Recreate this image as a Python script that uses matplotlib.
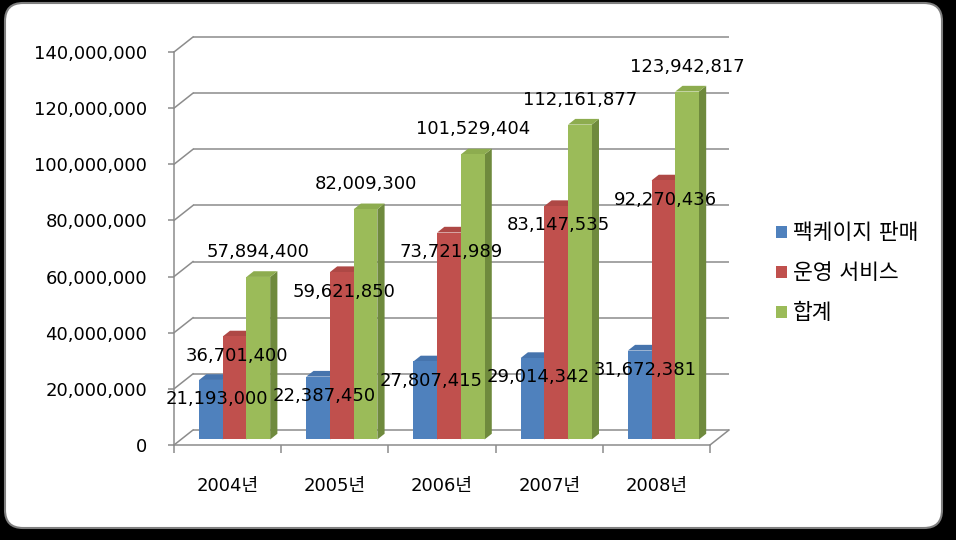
import matplotlib.pyplot as plt
from matplotlib.patches import Polygon, Patch, Rectangle, FancyBboxPatch
from matplotlib.transforms import IdentityTransform
import numpy as np

# digits in DejaVu (closer to the wide original face), hangul falls back to Noto
plt.rcParams['font.family'] = ['DejaVu Sans', 'Noto Sans CJK KR']

years = ['2004년', '2005년', '2006년', '2007년', '2008년']
series_names = ['팩케이지 판매', '운영 서비스', '합계']
package_sales = [21193000, 22387450, 27807415, 29014342, 31672381]
operation_service = [36701400, 59621850, 73721989, 83147535, 92270436]
total = [57894400, 82009300, 101529404, 112161877, 123942817]
y_ticks = [0, 20000000, 40000000, 60000000, 80000000, 100000000, 120000000, 140000000]

front_colors = ['#4F81BD', '#C0504D', '#9BBB59']
side_colors = ['#385D8A', '#8C3A38', '#6F8A3D']
top_colors = ['#4674AD', '#AE4845', '#8DAC4F']
grid_color = '#8C8C8C'

# perspective depth of the back wall, in data units
DX = 19 / 107.2
DY = 15 / 2.807 * 1e6
BAR_W = 0.221
F_FRONT = 0.37
F_BACK = 0.75


def draw_bar(ax, x0, value, k):
    x1 = x0 + BAR_W
    y0 = F_FRONT * DY
    y1 = value + F_FRONT * DY
    bdx = (F_BACK - F_FRONT) * DX
    bdy = (F_BACK - F_FRONT) * DY
    side = Polygon([(x1, y0), (x1 + bdx, y0 + bdy), (x1 + bdx, y1 + bdy), (x1, y1)],
                   closed=True, facecolor=side_colors[k], edgecolor='none', zorder=3)
    top = Polygon([(x0, y1), (x1, y1), (x1 + bdx, y1 + bdy), (x0 + bdx, y1 + bdy)],
                  closed=True, facecolor=top_colors[k], edgecolor='none', zorder=3)
    front = Rectangle((x0, y0), BAR_W, value, facecolor=front_colors[k],
                      edgecolor='none', zorder=3)
    ax.add_patch(side)
    ax.add_patch(top)
    ax.add_patch(front)
    return x0 + BAR_W / 2, y1


def main():
    fig = plt.figure(figsize=(9.56, 5.4), dpi=100, facecolor='black')

    panel = FancyBboxPatch((5, 12), 937, 525, boxstyle='round,pad=0,rounding_size=18',
                           transform=IdentityTransform(), facecolor='white',
                           edgecolor='#7F7F7F', linewidth=1.5, zorder=-10)
    fig.patches.append(panel)

    ax = fig.add_axes([174 / 956, (540 - 445) / 540, (731 - 174) / 956, (445 - 36) / 540])
    ax.patch.set_visible(False)
    ax.set_xlim(-0.5, 4.5 + 21 / 107.2)
    ax.set_ylim(0, 145.7e6)

    for s in ['top', 'right']:
        ax.spines[s].set_visible(False)
    ax.spines['left'].set_bounds(0, 140e6)
    ax.spines['bottom'].set_bounds(-0.5, 4.5)
    for s in ['left', 'bottom']:
        ax.spines[s].set_color(grid_color)
        ax.spines[s].set_linewidth(1.1)

    ax.set_yticks(y_ticks)
    ax.set_yticklabels([f'{v:,}' for v in y_ticks])
    ax.tick_params(axis='y', length=4.5, width=1.1, color=grid_color, pad=15,
                   labelsize=13)
    ax.set_xticks(np.arange(-0.5, 5, 1))
    ax.set_xticklabels([])
    ax.tick_params(axis='x', which='major', length=5.5, width=1.1, color=grid_color)
    ax.set_xticks(range(len(years)), minor=True)
    ax.set_xticklabels(years, minor=True)
    ax.tick_params(axis='x', which='minor', length=0, pad=23, labelsize=13)

    # back wall and side wall gridlines
    for v in y_ticks:
        ax.plot([-0.5 + DX, 4.5 + DX], [v + DY, v + DY], color=grid_color, lw=1.1,
                zorder=1, clip_on=False, solid_capstyle='butt')
        ax.plot([-0.5, -0.5 + DX], [v, v + DY], color=grid_color, lw=1.1,
                zorder=1, clip_on=False)
    ax.plot([4.5, 4.5 + DX], [0, DY], color=grid_color, lw=1.1, zorder=1, clip_on=False)

    series = [package_sales, operation_service, total]
    label_offsets = [(4, -14), (1.5, -14), (0, 18)]
    for i in range(len(years)):
        for k, values in enumerate(series):
            x0 = i + (k - 1.5) * BAR_W + F_FRONT * DX
            cx, top_y = draw_bar(ax, x0, values[i], k)
            ax.annotate(f'{values[i]:,}', (cx, top_y), xytext=label_offsets[k],
                        textcoords='offset points', ha='center', va='center',
                        fontsize=13, zorder=5)

    handles = [Patch(facecolor=c, edgecolor='none') for c in front_colors]
    fig.legend(handles, series_names, loc='upper left',
               bbox_to_anchor=(757 / 956, 1 - 204 / 540), frameon=False, fontsize=15.5,
               handlelength=0.48, handleheight=0.48, handletextpad=0.3, labelspacing=0.92)

    fig.savefig('out.png', dpi=100, facecolor='black')


if __name__ == "__main__":
    main()
